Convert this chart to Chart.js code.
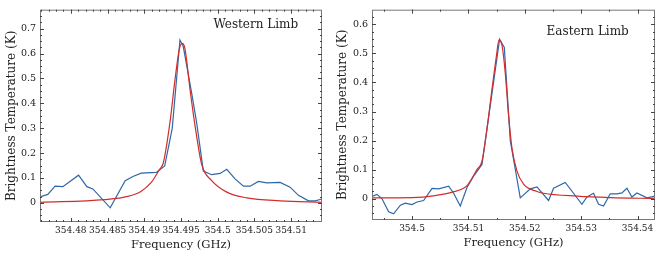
<!DOCTYPE html>
<html>
<head>
<meta charset="utf-8">
<script src="https://cdn.jsdelivr.net/npm/chart.js@4/dist/chart.umd.min.js"></script>
<style>
  body { margin: 0; background: #fff; }
  .wrap { position: relative; width: 665px; height: 255px; }
  canvas { position: absolute; top: 0; }
</style>
</head>
<body>
<div class="wrap">
  <canvas id="westChart" width="333" height="255" style="left:0"></canvas>
  <canvas id="eastChart" width="332" height="255" style="left:333px"></canvas>
</div>
<script>
// Données : limbe ouest
const westFreq = [354.47577, 354.47686, 354.47786, 354.47891, 354.48105, 354.48218, 354.48300,
    354.48536, 354.48740, 354.48845, 354.48959, 354.49163, 354.49278, 354.49381, 354.49486,
    354.49531, 354.49646, 354.49714, 354.49804, 354.49918, 354.50032, 354.50123, 354.50236,
    354.50350, 354.50441, 354.50554, 354.50668, 354.50850, 354.50986, 354.51099, 354.51236,
    354.51327, 354.51440];
const westObs = [0.024, 0.034, 0.067, 0.065, 0.111, 0.065, 0.056,
    -0.020, 0.089, 0.106, 0.119, 0.122, 0.148, 0.300, 0.654,
    0.628, 0.440, 0.320, 0.128, 0.113, 0.118, 0.135, 0.096,
    0.067, 0.067, 0.086, 0.080, 0.082, 0.063, 0.030, 0.008,
    0.008, 0.017];
const westFitFreq = [354.47577, 354.48460, 354.48777, 354.48959, 354.49095, 354.49209, 354.49259,
    354.49350, 354.49418, 354.49477, 354.49518, 354.49554, 354.49623, 354.49704, 354.49782,
    354.49918, 354.50123, 354.50396, 354.50850, 354.51422];
const westFit = [0.002, 0.013, 0.026, 0.047, 0.082, 0.135, 0.160,
    0.324, 0.494, 0.618, 0.641, 0.620, 0.455, 0.285, 0.154,
    0.089, 0.043, 0.020, 0.008, 0.002];

// Données : limbe est
const eastFreq = [354.49291, 354.49379, 354.49468, 354.49585, 354.49674, 354.49793, 354.49881,
    354.50000, 354.50089, 354.50206, 354.50355, 354.50472, 354.50650, 354.50738, 354.50856,
    354.50975, 354.51092, 354.51241, 354.51553, 354.51637, 354.51743, 354.51920, 354.52098,
    354.52216, 354.52422, 354.52511, 354.52718, 354.53014, 354.53103, 354.53220, 354.53309,
    354.53397, 354.53516, 354.53635, 354.53723, 354.53812, 354.53900, 354.53989, 354.54167,
    354.54314];
const eastObs = [0.008, 0.015, 0.000, -0.045, -0.052, -0.022, -0.015,
    -0.020, -0.011, -0.006, 0.036, 0.034, 0.043, 0.019, -0.025,
    0.039, 0.078, 0.118, 0.548, 0.520, 0.200, 0.003, 0.034,
    0.041, -0.006, 0.036, 0.056, -0.019, 0.006, 0.019, -0.019,
    -0.025, 0.017, 0.017, 0.020, 0.036, 0.006, 0.020, 0.003,
    0.009];
const eastFitFreq = [354.49291, 354.50000, 354.50410, 354.50700, 354.50975, 354.51152, 354.51241,
    354.51330, 354.51418, 354.51495, 354.51543, 354.51596, 354.51654, 354.51713, 354.51773,
    354.51862, 354.51979, 354.52216, 354.52333, 354.52926, 354.53516, 354.54314];
const eastFit = [0.003, 0.004, 0.011, 0.022, 0.045, 0.100, 0.129,
    0.241, 0.376, 0.488, 0.546, 0.527, 0.432, 0.286, 0.174,
    0.095, 0.050, 0.025, 0.019, 0.009, 0.004, 0.001];

const serif = "'DejaVu Serif', serif";
const textColor = '#222';
const blue = '#2e68a6';
const red = '#d22d2d';

/**
 * Cadre et graduations vers l'intérieur (style matplotlib)
 */
const inwardTicks = {
    id: 'inwardTicks',
    afterDraw(chart, args, opts) {
        const { ctx, chartArea: a } = chart;
        const xs = chart.scales.x, ys = chart.scales.y;
        ctx.save();
        ctx.strokeStyle = '#777';
        ctx.lineWidth = 1;
        ctx.strokeRect(a.left + 0.5, a.top + 0.5, a.right - a.left - 1, a.bottom - a.top - 1);
        ctx.strokeStyle = '#444';
        const mark = (x1, y1, x2, y2) => {
            ctx.beginPath();
            ctx.moveTo(x1, y1);
            ctx.lineTo(x2, y2);
            ctx.stroke();
        };
        const drawX = (v, len) => {
            const px = Math.round(xs.getPixelForValue(v)) + 0.5;
            if (px < a.left + 1 || px > a.right - 1) return;
            mark(px, a.bottom, px, a.bottom - len);
            mark(px, a.top, px, a.top + len);
        };
        const drawY = (v, len) => {
            const py = Math.round(ys.getPixelForValue(v)) + 0.5;
            if (py < a.top + 1 || py > a.bottom - 1) return;
            mark(a.left, py, a.left + len, py);
            mark(a.right, py, a.right - len, py);
        };
        for (let v = Math.ceil(xs.min / opts.xMinor) * opts.xMinor; v <= xs.max; v += opts.xMinor) drawX(v, 2);
        for (let v = Math.ceil(ys.min / opts.yMinor) * opts.yMinor; v <= ys.max; v += opts.yMinor) drawY(v, 2);
        xs.ticks.forEach(t => drawX(t.value, 4));
        ys.ticks.forEach(t => drawY(t.value, 4));
        // Étiquette du panneau
        ctx.fillStyle = textColor;
        ctx.font = '12px ' + serif;
        ctx.textBaseline = 'middle';
        ctx.fillText(opts.label, a.left + opts.labelX * (a.right - a.left), opts.labelY);
        ctx.restore();
    }
};

/**
 * Création d'un panneau
 */
function makePanel(id, freq, obs, fitFreq, fit, cfg) {
    const toPoints = (xs, ys) => xs.map((x, i) => ({ x: x, y: ys[i] }));
    return new Chart(document.getElementById(id), {
        type: 'scatter',
        data: {
            datasets: [{
                data: toPoints(fitFreq, fit),
                showLine: true,
                borderColor: red,
                borderWidth: 1.2,
                pointRadius: 0,
                cubicInterpolationMode: 'monotone',
                order: 0
            }, {
                data: toPoints(freq, obs),
                showLine: true,
                borderColor: blue,
                borderWidth: 1.2,
                pointRadius: 0,
                tension: 0,
                order: 1
            }]
        },
        options: {
            responsive: false,
            animation: false,
            devicePixelRatio: 1,
            layout: { padding: { top: 5, right: cfg.padRight, left: 0, bottom: 0 } },
            plugins: {
                legend: { display: false },
                tooltip: { enabled: false },
                inwardTicks: cfg.ticks
            },
            scales: {
                x: {
                    type: 'linear',
                    min: cfg.xMin,
                    max: cfg.xMax,
                    afterFit: s => { s.height = cfg.xHeight; },
                    grid: { display: false, drawTicks: false },
                    border: { display: false },
                    ticks: {
                        stepSize: cfg.xStep,
                        includeBounds: false,
                        padding: 3,
                        color: textColor,
                        font: { family: serif, size: 9 },
                        maxRotation: 0,
                        autoSkip: false,
                        callback: v => String(Number(v.toFixed(4)))
                    },
                    title: {
                        display: true,
                        text: 'Frequency (GHz)',
                        color: textColor,
                        font: { family: serif, size: 11.5 },
                        padding: { top: 0, bottom: cfg.xTitlePad }
                    }
                },
                y: {
                    min: cfg.yMin,
                    max: cfg.yMax,
                    afterFit: s => { s.width = cfg.yWidth; },
                    grid: { display: false, drawTicks: false },
                    border: { display: false },
                    ticks: {
                        stepSize: 0.1,
                        includeBounds: false,
                        padding: 4,
                        color: textColor,
                        font: { family: serif, size: 9.5 },
                        callback: v => String(Number(v.toFixed(3)))
                    },
                    title: {
                        display: true,
                        text: 'Brightness Temperature (K)',
                        color: textColor,
                        font: { family: serif, size: 12 },
                        padding: { top: cfg.yTitlePad, bottom: 0 }
                    }
                }
            }
        },
        plugins: [inwardTicks]
    });
}

makePanel('westChart', westFreq, westObs, westFitFreq, westFit, {
    xMin: 354.4758, xMax: 354.5142, xStep: 0.005,
    yMin: -0.077, yMax: 0.776,
    padRight: 11, xHeight: 33, yWidth: 40,
    xTitlePad: 3, yTitlePad: 5,
    ticks: { xMinor: 0.001, yMinor: 0.025, label: 'Western Limb', labelX: 0.615, labelY: 25 }
});

makePanel('eastChart', eastFreq, eastObs, eastFitFreq, eastFit, {
    xMin: 354.4929, xMax: 354.5431, xStep: 0.01,
    yMin: -0.073, yMax: 0.65,
    padRight: 10, xHeight: 35, yWidth: 39,
    xTitlePad: 5, yTitlePad: 3,
    ticks: { xMinor: 0.005, yMinor: 0.025, label: 'Eastern Limb', labelX: 0.617, labelY: 32 }
});
</script>
</body>
</html>
